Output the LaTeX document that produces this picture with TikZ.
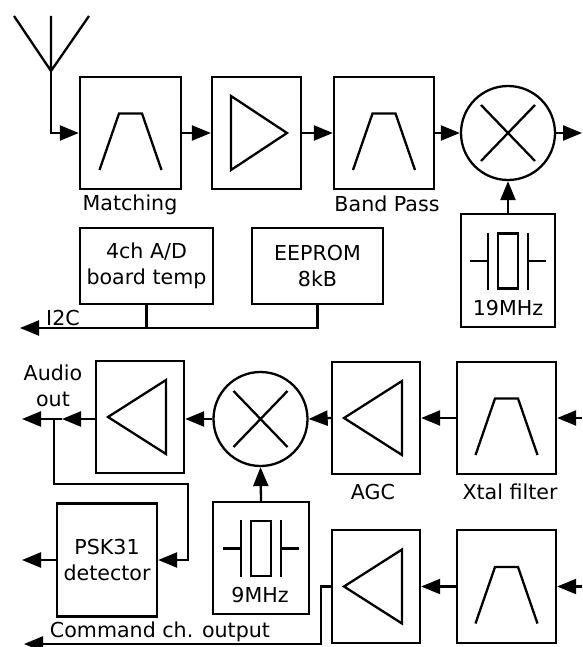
\documentclass[tikz,border=0pt]{standalone}
\usepackage{fontspec}
\setmainfont{DejaVu Sans}
\usetikzlibrary{arrows.meta,calc}
\tikzset{
  lw/.style={line width=2.3pt},
  blk/.style={draw, lw, inner sep=0pt},
  mixr/.style={draw, circle, lw, inner sep=0pt, minimum size=94pt},
  arr/.style={lw, -{Triangle[length=19pt,width=15pt]}},
  wire/.style={lw},
  lbl/.style={inner sep=0pt, align=center},
  filtsym/.pic={\draw[lw, line join=miter] (-31,37) -- (-11.5,-19.5) -- (11.5,-19.5) -- (31,37);},
  ampright/.pic={\draw[lw] (-25.5,-37) -- (30.5,0) -- (-25.5,37) -- cycle;},
  ampleft/.pic={\draw[lw] (-32,0) -- (26,-37) -- (26,37) -- cycle;},
  xsym/.pic={\draw[lw] (-27,-28) -- (27,28) (-27,28) -- (27,-28);},
  xtalsym/.pic={\draw[lw] (-38,-9.5) -- (-20,-9.5) (-20,-38) -- (-20,19)
     (20,-38) -- (20,19) (20,-9.5) -- (38,-9.5) (-10,-37) rectangle (10,18);}
}
\begin{document}
\begin{tikzpicture}[x=1pt,y=-1pt, every node/.style={font=\fontsize{20.6}{26}\selectfont}]
\useasboundingbox (0,0) rectangle (582,647);

% ---------- top chain ----------
\node[blk, minimum width=101pt, minimum height=112pt] (match) at (130.5,133) {};
\node[blk, minimum width=89pt, minimum height=112pt] (amp1) at (256.5,133) {};
\node[blk, minimum width=100pt, minimum height=112pt] (bp) at (384,133) {};
\node[mixr] (mix1) at (508,133) {};
\node[blk, minimum width=94pt, minimum height=113pt] (osc1) at (508,270.5) {};
\pic at (match) {filtsym};
\pic at (amp1) {ampright};
\pic at (bp) {filtsym};
\pic at (mix1) {xsym};
\pic at (osc1) {xtalsym};
\node[lbl] (lmatch) at (130,205) {Matching};
\node[lbl] (lbp) at (387,204) {Band Pass};
\node[lbl] (f19) at (508,308) {19MHz};

% antenna
\coordinate (anttop) at (51,16);
\coordinate (antv) at (51,71);
\coordinate (antl) at (14,16);
\coordinate (antr) at (89,16);
\draw[wire] (antl) -- (antv) -- (antr) (anttop) -- (antv);
\draw[arr] (antv) |- (match.west);
\draw[arr] (match.east) -- (amp1.west);
\draw[arr] (amp1.east) -- (bp.west);
\draw[arr] (bp.east) -- (mix1.west);
\coordinate (out1) at (582,133);
\draw[arr] (mix1.east) -- (out1);
\draw[arr] (osc1.north) -- (mix1.south);

% ---------- I2C ----------
\node[blk, minimum width=133pt, minimum height=76pt, lbl] (ad) at (146.5,266) {4ch A/D\\board temp};
\node[blk, minimum width=131pt, minimum height=76pt, lbl] (eeprom) at (317.5,266) {EEPROM\\8kB};
\coordinate (i2c) at (20,328);
\draw[arr] (eeprom.south) |- (i2c);
\draw[wire] (ad.south) -- (ad.south |- i2c);
\node[lbl] (li2c) at (63,318) {I2C};

% ---------- second chain ----------
\node[blk, minimum width=88pt, minimum height=112pt] (amp2) at (140,417) {};
\node[mixr] (mix2) at (260.5,419) {};
\node[blk, minimum width=96pt, minimum height=112pt] (osc2) at (261,558) {};
\node[blk, minimum width=88pt, minimum height=112pt] (agc) at (376,418) {};
\node[blk, minimum width=99pt, minimum height=112pt] (xtal) at (506.5,418) {};
\pic at (amp2) {ampleft};
\pic at (mix2) {xsym};
\pic at (osc2) {xtalsym};
\pic at (agc) {ampleft};
\pic at (xtal) {filtsym};
\node[lbl] (f9) at (260,595) {9MHz};
\node[lbl] (lagc) at (373,492) {AGC};
\node[lbl] (lxtal) at (510,492) {Xtal filter};
\node[lbl] (laudio) at (53,386) {Audio\\out};

\coordinate (in2) at (582,418);
\draw[arr] (in2) -- (xtal.east);
\draw[arr] (xtal.west) -- (agc.east);
\draw[arr] (agc.west) -- (mix2.east);
\draw[arr] (mix2.west) -- (mix2.west -| amp2.east);
\draw[arr] (osc2.north) -- (mix2.south);

% PSK31
\node[blk, minimum width=100pt, minimum height=113pt, lbl] (psk) at (107,560) {PSK31\\detector};

\coordinate (ja) at (62,419);
\coordinate (jb) at (54,419);
\coordinate (aout) at (22,419);
\coordinate (c1) at (188,484);
\draw[arr] (amp2.west |- ja) -- (ja);
\draw[arr] (ja) -- (aout);
\draw[arr] (jb) |- (c1) |- (psk.east);
\coordinate (pout) at (22,560);
\draw[arr] (psk.west) -- (pout);

% ---------- command channel ----------
\node[blk, minimum width=88pt, minimum height=113pt] (amp3) at (376,586.5) {};
\node[blk, minimum width=99pt, minimum height=113pt] (bpf3) at (506.5,586.5) {};
\pic at (amp3) {ampleft};
\pic at (bpf3) {filtsym};
\coordinate (in3) at (582,586.5);
\draw[arr] (in3) -- (bpf3.east);
\draw[arr] (bpf3.west) -- (amp3.east);
\coordinate (cbend) at (321,586.5);
\coordinate (cout) at (24,644);
\draw[arr] (amp3.west) -- (cbend) |- (cout);
\node[lbl] (lcmd) at (160,632) {Command ch. output};
\end{tikzpicture}
\end{document}
